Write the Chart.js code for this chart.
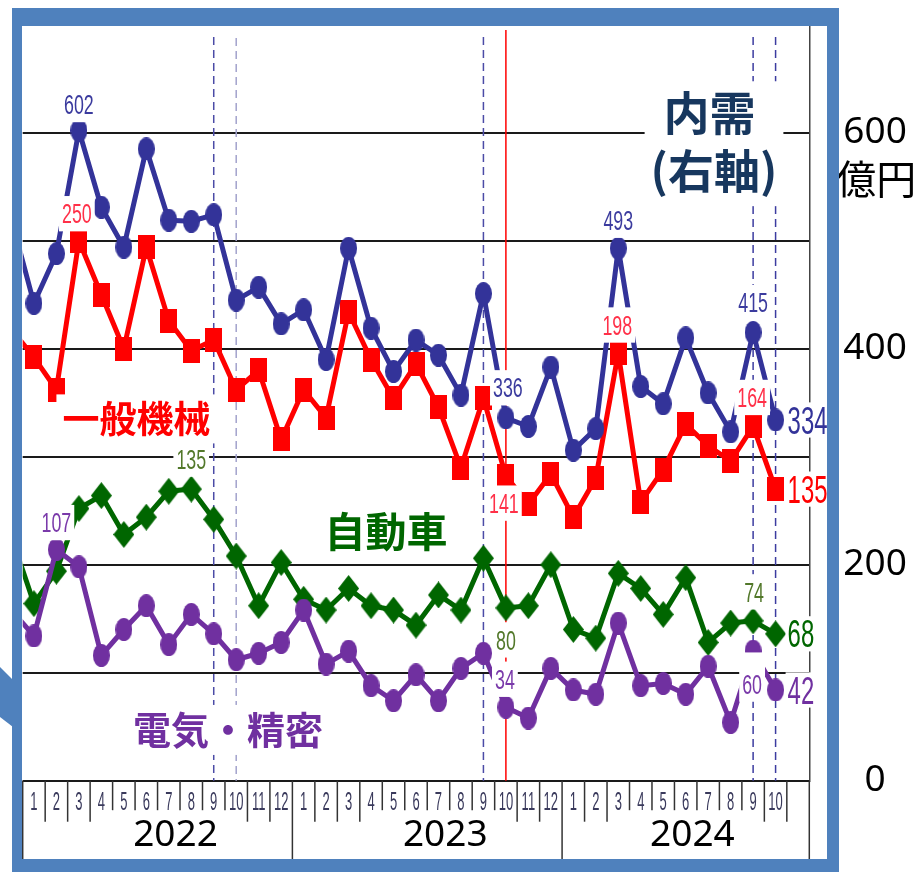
<!DOCTYPE html>
<html>
<head>
<meta charset="utf-8">
<script src="https://cdn.jsdelivr.net/npm/chart.js@4.4.1/dist/chart.umd.min.js"></script>
<style>
  html, body { margin: 0; padding: 0; background: #ffffff; }
  canvas { display: block; }
</style>
</head>
<body>
<canvas id="c" width="922" height="872"></canvas>
<script>
// ---- data ----
// Dec 2021 is only partly visible at the left edge of the plot.
const periods = [
  '2021-12',
  '2022-01','2022-02','2022-03','2022-04','2022-05','2022-06','2022-07','2022-08','2022-09','2022-10','2022-11','2022-12',
  '2023-01','2023-02','2023-03','2023-04','2023-05','2023-06','2023-07','2023-08','2023-09','2023-10','2023-11','2023-12',
  '2024-01','2024-02','2024-03','2024-04','2024-05','2024-06','2024-07','2024-08','2024-09','2024-10'
];
const years = ['2022', '2023', '2024'];

// 内需 (right axis, 億円)
const naiju   = [520, 442, 488, 602, 531, 494, 585, 519, 518, 524, 445, 457, 423,
                 436, 390, 493, 419, 379, 408, 394, 357, 451, 336, 328, 383,
                 306, 326, 493, 365, 349, 410, 359, 323, 415, 334];
// 一般機械 (left axis)
const ippan   = [209, 196, 181, 250, 225, 200, 247, 213, 199, 204, 181, 190, 158,
                 181, 168, 217, 195, 177, 193, 173, 145, 177, 141, 128, 142,
                 122, 140, 198, 129, 144, 165, 155, 148, 164, 135];
// 自動車 (left axis)
const jidosha = [113, 82, 97, 126, 132, 114, 122, 134, 135, 121, 104, 81, 101,
                 84, 79, 89, 81, 79, 72, 86, 79, 103, 80, 81, 100,
                 70, 66, 96, 89, 77, 94, 64, 73, 74, 68];
// 電気・精密 (left axis)
const denki   = [79, 67, 107, 99, 58, 70, 81, 63, 77, 68, 56, 59, 64,
                 79, 54, 60, 44, 37, 49, 37, 52, 59, 34, 29, 52,
                 42, 40, 73, 44, 45, 40, 53, 27, 60, 42];

const rightTickValues = [0, 200, 400, 600];
const markerPeriods = ['2022-09', '2022-10', '2023-09', '2023-10', '2024-09', '2024-10'];
const labelledPoints = [
  ['naiju', '2022-03'], ['ippan', '2022-03'], ['denki', '2022-02'], ['jidosha', '2022-08'],
  ['naiju', '2023-10'], ['ippan', '2023-10'], ['jidosha', '2023-10'], ['denki', '2023-10'],
  ['naiju', '2024-03'], ['ippan', '2024-03'],
  ['naiju', '2024-09'], ['ippan', '2024-09'], ['jidosha', '2024-09'], ['denki', '2024-09']
];
const seriesNames = { naiju: ['内需', '(右軸)'], ippan: ['一般機械'], jidosha: ['自動車'], denki: ['電気・精密'] };

// ---- styles ----
const COLORS = { naiju: '#333399', ippan: '#ff0000', jidosha: '#006600', denki: '#7030a0' };
const LABEL_COLORS = { naiju: '#3b3b9e', ippan: '#ff3048', jidosha: '#52782a', denki: '#7a3aaa' };
const NAME_COLORS = { naiju: '#17375e', ippan: '#ff0000', jidosha: '#006600', denki: '#7030a0' };
const AXIS_OF = { naiju: 'yR', ippan: 'yL', jidosha: 'yL', denki: 'yL' };
const DATA_OF = { naiju, ippan, jidosha, denki };

// label offsets (px) relative to their point
const labelPlacement = {
  'naiju|2022-03': [0, -26], 'ippan|2022-03': [-2, -27], 'denki|2022-02': [0, -27], 'jidosha|2022-08': [0, -30],
  'naiju|2023-10': [2, -30], 'ippan|2023-10': [-2, 27], 'jidosha|2023-10': [0, 32], 'denki|2023-10': [-1, -28],
  'naiju|2024-03': [0, -28], 'ippan|2024-03': [-1, -28],
  'naiju|2024-09': [0, -30], 'ippan|2024-09': [-1, -29], 'jidosha|2024-09': [1, -29], 'denki|2024-09': [-1, 33, 22]
};
// series-name positions in (x index, axis value)
const namePlacement = {
  naiju:   [[31.06, 618], [31.26, 563]],
  ippan:   [[5.56, 167.5]],
  jidosha: [[16.67, 115.4]],
  denki:   [[9.63, 23.5]]
};
const markerStyle = {
  '2022-09': { color: '#4b4ba6', dash: [8, 5], w: 1.5, top: 37 },
  '2022-10': { color: '#a3a3cc', dash: [8, 5], w: 1.5, top: 38 },
  '2023-09': { color: '#4b4ba6', dash: [8, 5], w: 1.5, top: 37 },
  '2023-10': { color: '#ff0000', dash: [], w: 1.5, top: 30 },
  '2024-09': { color: '#3c3ca0', dash: [8, 5], w: 1.5, top: 37 },
  '2024-10': { color: '#3c3ca0', dash: [8, 5], w: 1.5, top: 37 }
};

function marker(shape, color, w, h) {
  const c = document.createElement('canvas');
  c.width = w; c.height = h;
  const g = c.getContext('2d');
  g.fillStyle = color;
  g.beginPath();
  if (shape === 'ellipse') g.ellipse(w / 2, h / 2, w / 2, h / 2, 0, 0, Math.PI * 2);
  else if (shape === 'rect') g.rect(0, 0, w, h);
  else { g.moveTo(w / 2, 0); g.lineTo(w, h / 2); g.lineTo(w / 2, h); g.lineTo(0, h / 2); g.closePath(); }
  g.fill();
  return c;
}

function makeSet(key, shape, w, h, order) {
  return {
    label: seriesNames[key].join(''),
    data: DATA_OF[key].map((v, i) => ({ x: i, y: v })),
    yAxisID: AXIS_OF[key],
    borderColor: COLORS[key],
    backgroundColor: COLORS[key],
    borderWidth: 5,
    borderJoinStyle: 'round',
    pointStyle: marker(shape, COLORS[key], w, h),
    pointRadius: 10,
    pointHoverRadius: 10,
    tension: 0,
    clip: { left: 0, top: false, right: false, bottom: false },
    order: order
  };
}

const NUM_FONT = '"Liberation Sans", Arial, sans-serif';
function numText(ctx, txt, x, cy, size, sx, color, align, pad) {
  ctx.save();
  ctx.font = size + 'px ' + NUM_FONT;
  const w = ctx.measureText(txt).width * sx;
  const h = size * 0.716;
  const left = align === 'left' ? x : x - w / 2;
  if (pad) {
    ctx.fillStyle = '#ffffff';
    ctx.fillRect(left - pad[0], cy - h / 2 - pad[1], w + pad[0] * 2, h + pad[1] + pad[2]);
  }
  ctx.translate(left, cy + h / 2);
  ctx.scale(sx, 1);
  ctx.fillStyle = color;
  ctx.textAlign = 'left';
  ctx.textBaseline = 'alphabetic';
  ctx.fillText(txt, 0, 0);
  ctx.restore();
  return w;
}

const decorPlugin = {
  id: 'decor',
  beforeDatasetsDraw(chart) {
    const ctx = chart.ctx, X = chart.scales.x, area = chart.chartArea;
    markerPeriods.forEach(p => {
      const st = markerStyle[p];
      const x = X.getPixelForValue(periods.indexOf(p));
      ctx.save();
      ctx.strokeStyle = st.color; ctx.lineWidth = st.w; ctx.setLineDash(st.dash);
      ctx.beginPath(); ctx.moveTo(x, st.top); ctx.lineTo(x, area.bottom); ctx.stroke();
      ctx.restore();
    });
  },
  afterDatasetsDraw(chart) {
    const ctx = chart.ctx, X = chart.scales.x, area = chart.chartArea;
    // value labels
    labelledPoints.forEach(([key, p]) => {
      const i = periods.indexOf(p);
      const v = DATA_OF[key][i];
      const sc = chart.scales[AXIS_OF[key]];
      const pl = labelPlacement[key + '|' + p];
      const x = X.getPixelForValue(i) + pl[0];
      const y = sc.getPixelForValue(v) + pl[1];
      numText(ctx, String(v), x, y, 27, 0.66, LABEL_COLORS[key], 'center', [3, pl[2] || 8, 8]);
    });
    // end labels
    ['naiju', 'ippan', 'jidosha', 'denki'].forEach(key => {
      const i = periods.length - 1;
      const v = DATA_OF[key][i];
      const sc = chart.scales[AXIS_OF[key]];
      const x = X.getPixelForValue(i) + 12;
      const y = sc.getPixelForValue(v);
      numText(ctx, String(v), x, y, 38, 0.63, COLORS[key], 'left', [2, 4, 4]);
    });
    // series names
    Object.keys(seriesNames).forEach(key => {
      const lines = seriesNames[key];
      const pos = namePlacement[key];
      const size = { naiju: 46, ippan: 37, jidosha: 41, denki: 38 }[key];
      ctx.save();
      ctx.font = 'bold ' + size + 'px "Noto Sans CJK JP", sans-serif';
      const items = lines.map((t, k) => {
        const m = ctx.measureText(t);
        const cx = X.getPixelForValue(pos[k][0]);
        const cy = chart.scales[AXIS_OF[key]].getPixelForValue(pos[k][1]);
        const a = m.actualBoundingBoxAscent, d = m.actualBoundingBoxDescent;
        return { t, cx, cy, w: m.width, a, d };
      });
      let x0 = Infinity, x1 = -Infinity, y0 = Infinity, y1 = -Infinity;
      items.forEach(it => {
        x0 = Math.min(x0, it.cx - it.w / 2); x1 = Math.max(x1, it.cx + it.w / 2);
        y0 = Math.min(y0, it.cy - (it.a + it.d) / 2); y1 = Math.max(y1, it.cy + (it.a + it.d) / 2);
      });
      const padX = 6, padY = key === 'naiju' ? 9 : 6;
      ctx.fillStyle = '#ffffff';
      ctx.fillRect(x0 - padX, y0 - padY, x1 - x0 + padX * 2, y1 - y0 + padY * 2);
      ctx.fillStyle = NAME_COLORS[key];
      ctx.textAlign = 'center';
      ctx.textBaseline = 'alphabetic';
      items.forEach(it => ctx.fillText(it.t, it.cx, it.cy + (it.a - it.d) / 2));
      ctx.restore();
    });
  },
  afterDraw(chart) {
    const ctx = chart.ctx, X = chart.scales.x, YR = chart.scales.yR, area = chart.chartArea;
    const tableBottom = chart.height - 13;
    const unit = X.getPixelForValue(1) - X.getPixelForValue(0);
    ctx.save();
    // year labels
    ctx.font = '37px "Noto Sans", sans-serif';
    const yearBoxes = years.map((yr, k) => {
      const first = periods.indexOf(yr + '-01');
      let last = first;
      periods.forEach((p, i) => { if (p.startsWith(yr)) last = i; });
      const cx = (X.getPixelForValue(first) + X.getPixelForValue(last)) / 2 + 0.8 * unit;
      const w = ctx.measureText(yr).width;
      return { yr, cx, l: cx - w / 2, r: cx + w / 2 };
    });
    ctx.fillStyle = '#000';
    ctx.textAlign = 'center';
    ctx.textBaseline = 'middle';
    yearBoxes.forEach(b => ctx.fillText(b.yr, b.cx, area.bottom + 55));
    // separators
    ctx.strokeStyle = '#333';
    ctx.lineWidth = 1.5;
    const yearStarts = years.map(yr => periods.indexOf(yr + '-01') - 0.5);
    for (let b = 0.5; b <= 35.5; b += 1) {
      const x = X.getPixelForValue(b);
      let bottom;
      if (b === 0.5 || b === 35.5 || yearStarts.includes(b)) bottom = tableBottom;
      else {
        const short = yearBoxes.some(yb => x > yb.l - 30 && x < yb.r + 15);
        bottom = area.bottom + (short ? 29.5 : 41);
      }
      ctx.beginPath(); ctx.moveTo(x, area.bottom); ctx.lineTo(x, bottom); ctx.stroke();
    }
    ctx.restore();
    // month labels
    periods.forEach((p, i) => {
      if (i === 0) return;
      const m = String(parseInt(p.split('-')[1], 10));
      numText(ctx, m, X.getPixelForValue(i), area.bottom + 20.5, 25, 0.52, '#3a3a5c', 'center', null);
    });
    // unit label of right axis
    ctx.save();
    ctx.font = '40px "Noto Sans CJK JP", sans-serif';
    ctx.fillStyle = '#000';
    ctx.textAlign = 'left';
    ctx.textBaseline = 'middle';
    ctx.fillText('億円', area.right + 27, YR.getPixelForValue(600) + 46);
    ctx.restore();
    // frame
    ctx.save();
    ctx.fillStyle = '#4f81bd';
    ctx.fillRect(12, 8, 827, 18);
    ctx.fillRect(12, 8, 10, 864);
    ctx.fillRect(827, 8, 12, 864);
    ctx.fillRect(12, 859, 827, 13);
    ctx.beginPath();
    ctx.moveTo(0, 667); ctx.lineTo(13, 680); ctx.lineTo(13, 727); ctx.lineTo(0, 717); ctx.closePath();
    ctx.fill();
    ctx.restore();
  }
};

new Chart(document.getElementById('c'), {
  type: 'line',
  data: {
    datasets: [
      makeSet('denki', 'ellipse', 17, 23, 0),
      makeSet('naiju', 'ellipse', 17, 23, 1),
      makeSet('jidosha', 'diamond', 21, 27, 2),
      makeSet('ippan', 'rect', 17, 24, 3)
    ]
  },
  options: {
    responsive: false,
    devicePixelRatio: 1,
    animation: false,
    events: [],
    layout: { padding: { left: 22.7, top: 24.7, bottom: 91.3, right: 0 } },
    plugins: { legend: { display: false }, tooltip: { enabled: false } },
    scales: {
      x: { type: 'linear', min: 0.5, max: 35.5, display: false },
      yL: { type: 'linear', position: 'left', min: 0, max: 350, display: false },
      yR: {
        type: 'linear', position: 'right', min: 0, max: 700,
        afterFit: s => { s.width = 112.7; s.paddingTop = 0; s.paddingBottom = 0; },
        border: { display: true, color: '#444', width: 1.5 },
        grid: { color: '#1a1a1a', lineWidth: 2, drawTicks: false },
        ticks: {
          stepSize: 100, padding: 34, crossAlign: 'center', color: '#000',
          font: { family: '"Noto Sans", sans-serif', size: 37 },
          callback: v => rightTickValues.includes(v) ? String(v) : ''
        }
      }
    }
  },
  plugins: [decorPlugin]
});
</script>
</body>
</html>
